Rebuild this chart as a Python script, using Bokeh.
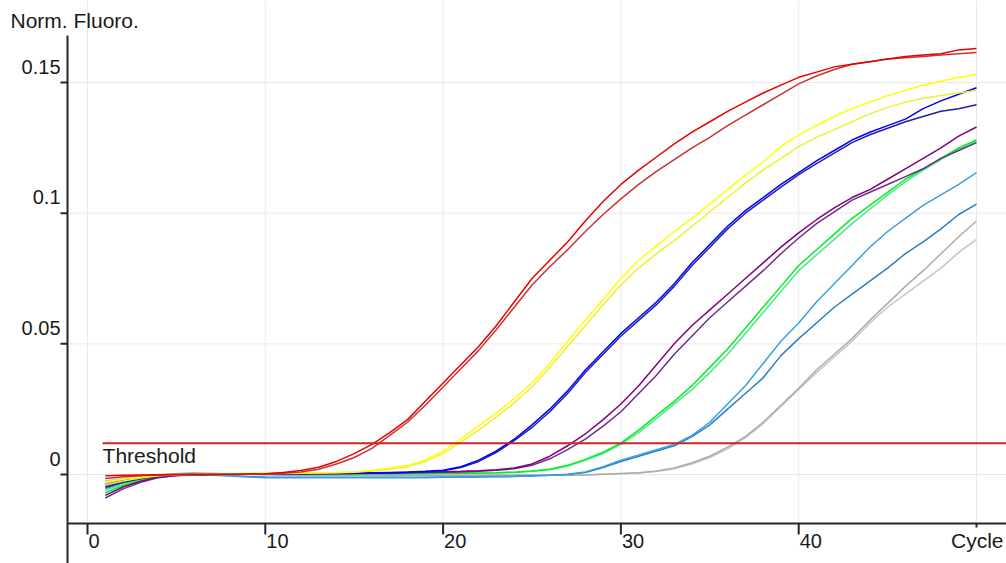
from bokeh.plotting import figure
from bokeh.models import Range1d
from bokeh.core.properties import value
from bokeh.embed import file_html
from bokeh.resources import INLINE

# ---------------- data ----------------
CYCLES = list(range(1, 51))

RED_A = [-0.0005, -0.0003, -0.0002, -0.0001, 0.0, 0.0, 0.0001, 0.0001, 0.0002, 0.0003,
         0.0008, 0.0015, 0.0028, 0.005, 0.008, 0.0115, 0.016, 0.021, 0.028, 0.035,
         0.042, 0.049, 0.057, 0.066, 0.075, 0.082, 0.089, 0.097, 0.1045, 0.111,
         0.1165, 0.1215, 0.1265, 0.131, 0.135, 0.139, 0.1425, 0.146, 0.149, 0.152,
         0.154, 0.156, 0.157, 0.158, 0.159, 0.160, 0.1605, 0.161, 0.1625, 0.163]
RED_B = [-0.0015, -0.0009, -0.0005, -0.0002, -0.0001, 0.0, 0.0, 0.0001, 0.0001, 0.0002,
         0.0005, 0.001, 0.002, 0.004, 0.0065, 0.010, 0.015, 0.020, 0.0265, 0.0335,
         0.0405, 0.0475, 0.0555, 0.064, 0.0725, 0.0795, 0.086, 0.093, 0.0995, 0.1055,
         0.111, 0.116, 0.1205, 0.125, 0.129, 0.1335, 0.1375, 0.1415, 0.1455, 0.1495,
         0.1525, 0.155, 0.157, 0.158, 0.159, 0.1595, 0.160, 0.1605, 0.161, 0.1615]
YELLOW_A = [-0.003, -0.0018, -0.001, -0.0004, -0.0001, 0.0, 0.0002, 0.0003, 0.0004, 0.0004,
            0.0005, 0.0006, 0.0007, 0.0008, 0.001, 0.0015, 0.0025, 0.0035, 0.0055, 0.009,
            0.0135, 0.0185, 0.0235, 0.029, 0.035, 0.0425, 0.051, 0.059, 0.067, 0.075,
            0.082, 0.0875, 0.093, 0.098, 0.1035, 0.109, 0.1145, 0.1195, 0.1255, 0.130,
            0.1335, 0.137, 0.140, 0.1425, 0.145, 0.147, 0.149, 0.1505, 0.152, 0.153]
YELLOW_B = [-0.004, -0.0025, -0.0013, -0.0005, -0.0001, 0.0001, 0.0002, 0.0003, 0.0003, 0.0004,
            0.0004, 0.0005, 0.0006, 0.0007, 0.0009, 0.0013, 0.002, 0.003, 0.005, 0.008,
            0.0125, 0.017, 0.022, 0.0275, 0.0335, 0.041, 0.049, 0.057, 0.065, 0.0725,
            0.079, 0.0845, 0.0895, 0.095, 0.1005, 0.106, 0.1115, 0.1165, 0.121, 0.1255,
            0.129, 0.132, 0.135, 0.138, 0.1405, 0.1425, 0.144, 0.145, 0.146, 0.147]
BLUE_A = [-0.004, -0.0024, -0.0013, -0.0005, -0.0001, 0.0, 0.0001, 0.0001, 0.0002, 0.0002,
          0.0003, 0.0003, 0.0004, 0.0004, 0.0005, 0.0006, 0.0007, 0.0009, 0.0012, 0.0016,
          0.003, 0.0055, 0.009, 0.0135, 0.019, 0.025, 0.032, 0.040, 0.047, 0.054,
          0.060, 0.066, 0.073, 0.081, 0.088, 0.095, 0.101, 0.106, 0.111, 0.1155,
          0.120, 0.124, 0.128, 0.131, 0.1335, 0.136, 0.140, 0.143, 0.1455, 0.148]
BLUE_B = [-0.005, -0.003, -0.0016, -0.0006, -0.0002, 0.0, 0.0, 0.0001, 0.0001, 0.0002,
          0.0002, 0.0003, 0.0003, 0.0004, 0.0004, 0.0005, 0.0006, 0.0008, 0.001, 0.0014,
          0.0027, 0.005, 0.0085, 0.013, 0.018, 0.024, 0.031, 0.039, 0.046, 0.053,
          0.059, 0.065, 0.072, 0.080, 0.087, 0.094, 0.100, 0.105, 0.110, 0.1148,
          0.119, 0.123, 0.127, 0.130, 0.1325, 0.135, 0.137, 0.139, 0.140, 0.1415]
PURPLE_A = [-0.008, -0.0048, -0.0026, -0.001, -0.0003, 0.0, 0.0001, 0.0002, 0.0003, 0.0003,
            0.0004, 0.0005, 0.0005, 0.0006, 0.0006, 0.0007, 0.0008, 0.0009, 0.001, 0.0011,
            0.0012, 0.0014, 0.0018, 0.0025, 0.004, 0.007, 0.011, 0.0155, 0.021, 0.027,
            0.034, 0.042, 0.050, 0.057, 0.063, 0.069, 0.075, 0.081, 0.087, 0.0925,
            0.0975, 0.102, 0.106, 0.109, 0.113, 0.117, 0.121, 0.125, 0.1295, 0.133]
PURPLE_B = [-0.009, -0.0055, -0.003, -0.0012, -0.0004, 0.0, 0.0001, 0.0001, 0.0002, 0.0002,
            0.0003, 0.0003, 0.0004, 0.0004, 0.0005, 0.0005, 0.0006, 0.0007, 0.0008, 0.0009,
            0.001, 0.0012, 0.0016, 0.0022, 0.0035, 0.006, 0.0095, 0.0135, 0.0185, 0.024,
            0.031, 0.038, 0.046, 0.053, 0.060, 0.066, 0.072, 0.078, 0.0845, 0.0905,
            0.096, 0.1005, 0.105, 0.108, 0.111, 0.114, 0.117, 0.121, 0.124, 0.127]
GREEN_A = [-0.007, -0.0042, -0.0023, -0.0009, -0.0002, 0.0, 0.0, 0.0001, 0.0001, 0.0001,
           0.0001, 0.0002, 0.0002, 0.0002, 0.0003, 0.0003, 0.0003, 0.0004, 0.0004, 0.0005,
           0.0005, 0.0006, 0.0007, 0.0009, 0.0013, 0.002, 0.0035, 0.0058, 0.0085, 0.012,
           0.017, 0.0225, 0.028, 0.034, 0.041, 0.048, 0.056, 0.064, 0.072, 0.080,
           0.086, 0.092, 0.098, 0.103, 0.108, 0.113, 0.117, 0.121, 0.125, 0.128]
GREEN_B = [-0.006, -0.0036, -0.002, -0.0008, -0.0002, 0.0, 0.0, 0.0, 0.0001, 0.0001,
           0.0001, 0.0001, 0.0002, 0.0002, 0.0002, 0.0003, 0.0003, 0.0003, 0.0004, 0.0004,
           0.0005, 0.0005, 0.0006, 0.0008, 0.0012, 0.0018, 0.0032, 0.0054, 0.008, 0.0115,
           0.016, 0.0215, 0.027, 0.0325, 0.039, 0.046, 0.054, 0.062, 0.070, 0.078,
           0.084, 0.090, 0.096, 0.1015, 0.107, 0.112, 0.1165, 0.1205, 0.1245, 0.1275]
LIGHTBLUE_A = [-0.0055, -0.0034, -0.002, -0.001, -0.0005, -0.0002, -0.0003, -0.0006, -0.001, -0.0012,
               -0.0012, -0.0012, -0.0012, -0.0012, -0.0012, -0.0012, -0.0012, -0.0012, -0.0012, -0.0011,
               -0.0011, -0.001, -0.0009, -0.0008, -0.0006, -0.0003, 0.0001, 0.001, 0.003, 0.0055,
               0.0075, 0.0095, 0.0115, 0.015, 0.020, 0.027, 0.034, 0.0425, 0.051, 0.058,
               0.066, 0.073, 0.080, 0.087, 0.093, 0.098, 0.103, 0.107, 0.111, 0.1155]
LIGHTBLUE_B = [-0.0045, -0.0028, -0.0016, -0.0008, -0.0004, -0.0002, -0.0002, -0.0004, -0.0008, -0.001,
               -0.0011, -0.0011, -0.0011, -0.0011, -0.0011, -0.0011, -0.0011, -0.0011, -0.0011, -0.001,
               -0.001, -0.0009, -0.0008, -0.0007, -0.0005, -0.0003, 0.0, 0.0008, 0.0027, 0.005,
               0.007, 0.009, 0.011, 0.0145, 0.019, 0.025, 0.031, 0.037, 0.0455, 0.052,
               0.058, 0.064, 0.069, 0.074, 0.079, 0.0845, 0.089, 0.094, 0.0995, 0.1035]
GRAY_A = [-0.0035, -0.002, -0.001, -0.0003, 0.0003, 0.0006, 0.0004, 0.0002, 0.0001, 0.0,
          -0.0003, -0.0003, -0.0003, -0.0003, -0.0003, -0.0003, -0.0003, -0.0003, -0.0003, -0.0003,
          -0.0003, -0.0003, -0.0003, -0.0003, -0.0003, -0.0003, -0.0003, -0.0002, 0.0001, 0.0004,
          0.0007, 0.0013, 0.0025, 0.0045, 0.007, 0.0105, 0.0145, 0.020, 0.0265, 0.033,
          0.040, 0.046, 0.052, 0.059, 0.0655, 0.072, 0.078, 0.0845, 0.091, 0.097]
GRAY_B = [-0.0025, -0.0014, -0.0006, 0.0, 0.0004, 0.0006, 0.0004, 0.0002, 0.0, -0.0001,
          -0.0002, -0.0002, -0.0002, -0.0002, -0.0002, -0.0002, -0.0002, -0.0002, -0.0002, -0.0002,
          -0.0002, -0.0002, -0.0002, -0.0002, -0.0002, -0.0002, -0.0002, -0.0001, 0.0001, 0.0003,
          0.0006, 0.0011, 0.0022, 0.004, 0.0065, 0.0098, 0.014, 0.0195, 0.026, 0.0325,
          0.039, 0.045, 0.051, 0.058, 0.064, 0.069, 0.074, 0.079, 0.085, 0.090]

SERIES = [
    (GRAY_B, "#c6c6c6"), (GRAY_A, "#acacac"),
    (LIGHTBLUE_B, "#2b7fc4"), (LIGHTBLUE_A, "#3aa0e0"),
    (GREEN_B, "#4fe68a"), (GREEN_A, "#00f020"),
    (PURPLE_B, "#6e2f86"), (PURPLE_A, "#820082"),
    (BLUE_B, "#1f1fa8"), (BLUE_A, "#0000ff"),
    (YELLOW_B, "#eeee38"), (YELLOW_A, "#ffff00"),
    (RED_B, "#c83434"), (RED_A, "#e80000"),
]

THRESHOLD = 0.012
THRESHOLD_START = 0.85
XTICKS = [0, 10, 20, 30, 40, 50]
XTICK_LABELS = ["0", "10", "20", "30", "40"]
YTICKS = [0, 0.05, 0.1, 0.15]
YTICK_LABELS = ["0", "0.05", "0.1", "0.15"]
Y_TITLE = "Norm. Fluoro."
X_TITLE = "Cycle"

# ---------------- layout ----------------
W, H = 1006, 563
PX_X0 = 87.0          # px from left of cycle 0
PX_PER_CYCLE = 17.78
PX_Y0 = 474.0         # px from top of value 0
PX_PER_UNIT = 2613.0

x_start = -PX_X0 / PX_PER_CYCLE
x_end = (W - PX_X0) / PX_PER_CYCLE
y_end = PX_Y0 / PX_PER_UNIT
y_start = -(H - PX_Y0) / PX_PER_UNIT


def xd(px):
    return x_start + px / PX_PER_CYCLE


def yd(py):
    return y_end - py / PX_PER_UNIT


YAXIS_X = xd(67)
YAXIS_TOP = yd(35)
XAXIS_Y = yd(523)

FONT = value("Liberation Sans")
TXT = "#1a1a1a"
AX = "#262626"

p = figure(width=W, height=H, x_range=Range1d(x_start, x_end), y_range=Range1d(y_start, y_end),
           x_axis_type=None, y_axis_type=None, min_border=0, toolbar_location=None,
           output_backend="svg", outline_line_color=None,
           background_fill_color="white", border_fill_color="white")

# grid lines
p.segment(x0=XTICKS, y0=[XAXIS_Y] * len(XTICKS), x1=XTICKS, y1=[y_end] * len(XTICKS),
          line_color="#e9e9e9", line_width=1)
p.segment(x0=[YAXIS_X] * len(YTICKS), y0=YTICKS, x1=[x_end] * len(YTICKS), y1=YTICKS,
          line_color="#e9e9e9", line_width=1)

# curves
for vals, col in SERIES:
    p.line(CYCLES, vals, line_color=col, line_width=1.5)

# threshold
p.segment(x0=[THRESHOLD_START], y0=[THRESHOLD], x1=[x_end], y1=[THRESHOLD],
          line_color="#cc2424", line_width=2)
p.text(x=[THRESHOLD_START], y=[THRESHOLD], text=["Threshold"], x_offset=0, y_offset=12,
       text_align="left", text_baseline="alphabetic", text_font=FONT,
       text_font_size="21px", text_color=TXT)

# axes
p.segment(x0=[YAXIS_X], y0=[y_start], x1=[YAXIS_X], y1=[YAXIS_TOP], line_color=AX, line_width=2)
p.segment(x0=[YAXIS_X], y0=[XAXIS_Y], x1=[x_end], y1=[XAXIS_Y], line_color=AX, line_width=2)
p.segment(x0=[YAXIS_X - 7 / PX_PER_CYCLE] * len(YTICKS), y0=YTICKS,
          x1=[YAXIS_X] * len(YTICKS), y1=YTICKS, line_color=AX, line_width=2)
p.segment(x0=XTICKS[:-1], y0=[XAXIS_Y] * (len(XTICKS) - 1),
          x1=XTICKS[:-1], y1=[XAXIS_Y - 11 / PX_PER_UNIT] * (len(XTICKS) - 1),
          line_color=AX, line_width=2)
p.segment(x0=XTICKS[-1:], y0=[XAXIS_Y], x1=XTICKS[-1:], y1=[XAXIS_Y - 4 / PX_PER_UNIT],
          line_color=AX, line_width=2)

# tick labels
p.text(x=[YAXIS_X] * len(YTICKS), y=YTICKS, text=YTICK_LABELS, x_offset=-7, y_offset=-16,
       text_align="right", text_baseline="alphabetic", text_font=FONT,
       text_font_size="20px", text_color=TXT)
p.text(x=XTICKS[:-1], y=[XAXIS_Y] * len(XTICK_LABELS), text=XTICK_LABELS, x_offset=1, y_offset=17,
       text_align="left", text_baseline="alphabetic", text_font=FONT,
       text_font_size="20px", text_color=TXT)
p.text(x=[x_end], y=[XAXIS_Y], text=[X_TITLE], x_offset=-3, y_offset=17,
       text_align="right", text_baseline="alphabetic", text_font=FONT,
       text_font_size="21px", text_color=TXT)
p.text(x=[xd(10)], y=[yd(20)], text=[Y_TITLE],
       text_align="left", text_baseline="alphabetic", text_font=FONT,
       text_font_size="21px", text_color=TXT)

open("out.html", "w").write(file_html(p, INLINE))
